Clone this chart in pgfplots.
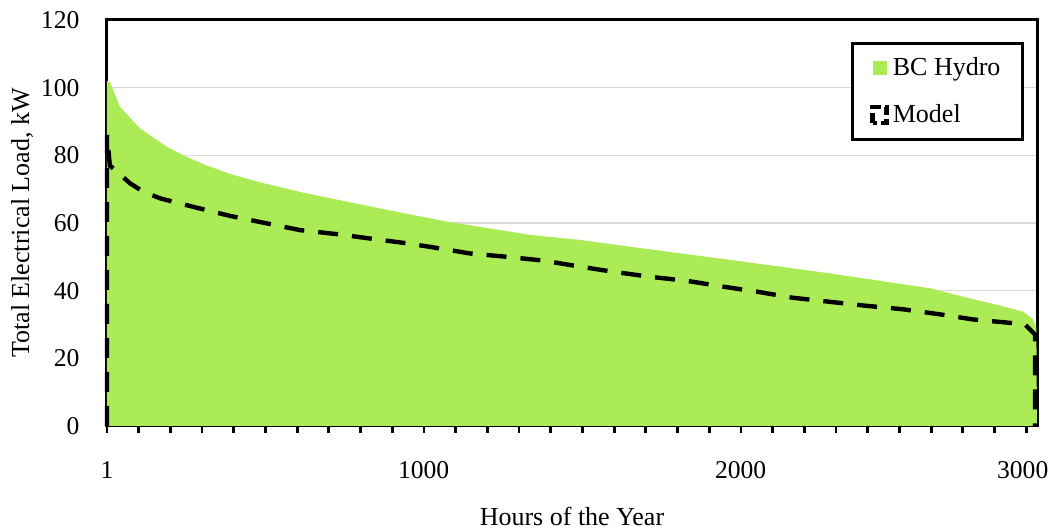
\documentclass[border=0pt]{standalone}
\usepackage{fontspec}
\setmainfont{Liberation Serif}
\usepackage{pgfplots}
\pgfplotsset{compat=1.18}

\definecolor{hydrogreen}{RGB}{170,235,86}
\definecolor{gridgray}{RGB}{217,217,217}

\begin{document}
\begin{tikzpicture}
\useasboundingbox (0,0) rectangle (528.5pt,265.5pt);
\begin{axis}[
  at={(53.5pt,52.5pt)}, anchor=south west,
  scale only axis, width=465pt, height=203pt,
  xmin=1, xmax=2935, ymin=0, ymax=120,
  axis line style={line width=1.5pt},
  xtick={1,1000,2000,2890},
  xticklabels={1,1000,2000,3000},
  major x tick style={draw=none},
  minor xtick={1,101,...,2901},
  minor x tick style={line width=1.4pt, black},
  minor tick length=3.5pt,
  tick align=outside,
  xtick pos=bottom,
  ytick={0,20,...,120},
  ytick style={draw=none},
  ymajorgrids, major grid style={gridgray, line width=0.7pt},
  /pgf/number format/assume math mode=true,
  ticklabel style={font=\fontsize{12.8}{14}\selectfont},
  xticklabel style={yshift=-10pt},
  yticklabel style={xshift=-6pt},
  xlabel={Hours of the Year},
  ylabel={Total Electrical Load, kW},
  label style={font=\fontsize{13}{15}\selectfont},
  xlabel style={at={(axis description cs:0.5,-0.224)}, anchor=center},
  ylabel style={at={(axis description cs:-0.0914,0.5)}, anchor=center},
  legend style={at={(0.986,0.946)}, anchor=north east,
    draw=black, line width=1.5pt, fill=white,
    font=\fontsize{13}{15}\selectfont,
    inner xsep=9pt, inner ysep=5pt, row sep=9pt},
  legend cell align=left,
  clip=false,
]
% measured load-duration curve
\addplot[draw=none, fill=hydrogreen, area legend,
  legend image code/.code={\fill[hydrogreen] (0pt,-3.5pt) rectangle (7pt,3.5pt);}]
  coordinates {
  (1,0) (1,102) (10,101.7) (42,94.3) (105,88) (190,82.5) (253,79.5)
  (316,77.0) (389,74.5) (493,71.8) (619,69.0) (758,66.3) (916,63.3)
  (1074,60.4) (1336,56.5) (1493,55.0) (1683,52.6) (1967,49.1)
  (2282,45.1) (2598,40.7) (2702,38.2) (2809,35.8) (2891,33.8)
  (2923,31.5) (2933,29) (2935,0)
  } --cycle;
\addlegendentry{BC Hydro}
% simulated load-duration curve
\addplot[black, line width=2.2pt, dash pattern=on 10pt off 7pt,
  legend image code/.code={\draw[line width=2.2pt, dash pattern=on 5pt off 2pt] (0pt,-4pt) rectangle (7pt,4pt);}]
  coordinates {
  (1,0) (1,86) (10,77) (26,75.7) (74,71.7) (115,69.3) (168,67.3)
  (272,64.8) (389,62.1) (436,61.2) (610,57.9) (727,56.7) (840,55.3)
  (947,54.0) (1030,52.8) (1146,51.0) (1263,50.0) (1377,48.9)
  (1493,47.1) (1597,45.6) (1714,44.1) (1831,42.9) (1944,41.2)
  (2052,39.7) (2165,37.9) (2282,36.7) (2399,35.5) (2512,34.5)
  (2629,33.0) (2733,31.5) (2859,30.4) (2897,30.0) (2929,27) (2929,0)
  };
\addlegendentry{Model}
\end{axis}
\end{tikzpicture}
\end{document}
